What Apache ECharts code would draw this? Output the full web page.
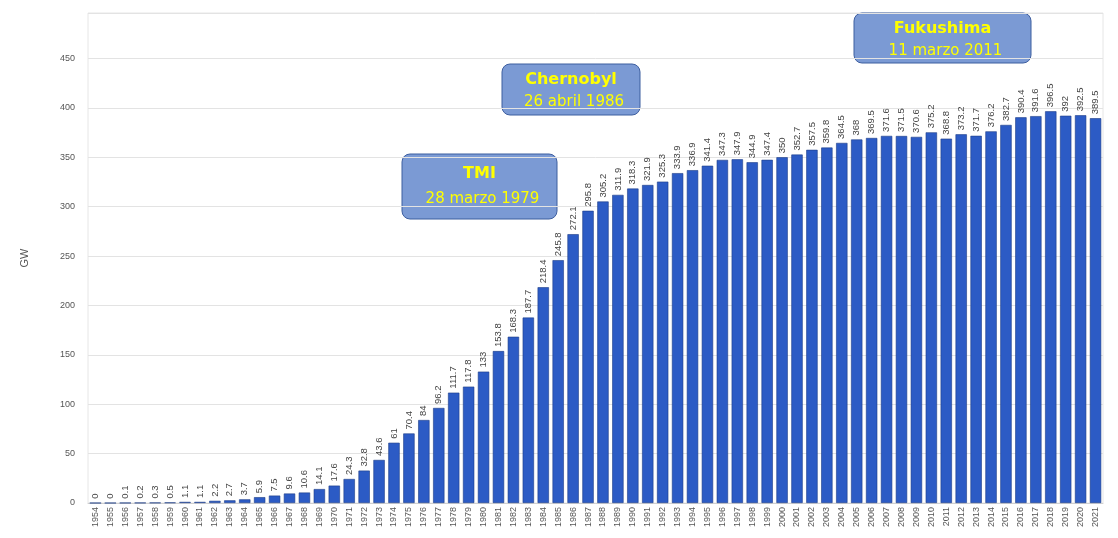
<!DOCTYPE html>
<html>
<head>
<meta charset="utf-8">
<script src="https://cdn.jsdelivr.net/npm/echarts@6/dist/echarts.min.js"></script>
<style>
  html, body { margin: 0; padding: 0; background: #fff; }
  #chart { width: 1118px; height: 538px; }
</style>
</head>
<body>
<div id="chart"></div>
<script>
// years 1954 - 2021
var years = [];
for (var y = 1954; y <= 2021; y++) years.push(String(y));

// installed nuclear capacity, GW
var capacity = [
    0, 0, 0.1, 0.2, 0.3, 0.5, 1.1, 1.1, 2.2, 2.7,
    3.7, 5.9, 7.5, 9.6, 10.6, 14.1, 17.6, 24.3, 32.8, 43.6,
    61, 70.4, 84, 96.2, 111.7, 117.8, 133, 153.8, 168.3, 187.7,
    218.4, 245.8, 272.1, 295.8, 305.2, 311.9, 318.3, 321.9, 325.3, 333.9,
    336.9, 341.4, 347.3, 347.9, 344.9, 347.4, 350, 352.7, 357.5, 359.8,
    364.5, 368, 369.5, 371.6, 371.5, 370.6, 375.2, 368.8, 373.2, 371.7,
    376.2, 382.7, 390.4, 391.6, 396.5, 392, 392.5, 389.5
];

var events = [
    { title: "TMI", date: "28 marzo 1979", box: [402, 154, 155, 65] },
    { title: "Chernobyl", date: "26 abril 1986", box: [502, 64, 138, 51] },
    { title: "Fukushima", date: "11 marzo 2011", box: [854, 13, 177, 50] }
];

var myChart = echarts.init(document.getElementById("chart"));

function eventGraphic(ev) {
    var b = ev.box;
    var cx = b[0] + b[2] / 2;
    var tall = b[3] > 55;
    return {
        type: 'group',
        z: 100,
        children: [{
            type: 'rect',
            shape: { x: b[0], y: b[1], width: b[2], height: b[3], r: 8 },
            style: { fill: '#7b9ad4', stroke: '#3d5e9f', lineWidth: 1 }
        }, {
            type: 'text',
            x: cx, y: b[1] + (tall ? 20 : 16),
            style: {
                text: ev.title, fill: '#ffff00', font: 'bold 16px "DejaVu Sans", Verdana, sans-serif',
                textAlign: 'center', textVerticalAlign: 'middle'
            }
        }, {
            type: 'text',
            x: cx + 3, y: b[1] + (tall ? 45 : 38),
            style: {
                text: ev.date, fill: '#ffff00', font: '15px "DejaVu Sans", Verdana, sans-serif',
                textAlign: 'center', textVerticalAlign: 'middle'
            }
        }]
    };
}

var option = {
    animation: false,
    grid: {
        left: 88,
        right: 15,
        top: 13,
        bottom: 35,
        show: true,
        borderColor: '#e6e6e6',
        borderWidth: 1
    },
    xAxis: {
        type: 'category',
        data: years,
        axisLine: { lineStyle: { color: '#d0d0d0' } },
        axisTick: { show: false },
        axisLabel: {
            rotate: 90,
            interval: 0,
            fontSize: 9,
            color: '#555',
            margin: 4,
            fontFamily: 'Liberation Sans, Arial, sans-serif'
        }
    },
    yAxis: {
        type: 'value',
        min: 0,
        max: 496,
        interval: 50,
        name: 'GW',
        nameLocation: 'middle',
        nameGap: 58,
        nameTextStyle: { color: '#555', fontSize: 11, fontFamily: 'Liberation Sans, Arial, sans-serif' },
        axisLine: { show: false },
        axisTick: { show: false },
        axisLabel: {
            fontSize: 9,
            color: '#555',
            margin: 13,
            fontFamily: 'Liberation Sans, Arial, sans-serif',
            showMaxLabel: false
        },
        splitLine: { lineStyle: { color: '#e3e3e3' } }
    },
    series: [{
        name: 'GW',
        type: 'bar',
        data: capacity,
        barCategoryGap: '24%',
        itemStyle: {
            color: '#2c5bc5',
            borderColor: '#1d3d86',
            borderWidth: 0.6
        },
        label: {
            show: true,
            position: 'top',
            rotate: 90,
            align: 'left',
            verticalAlign: 'middle',
            distance: 4,
            fontSize: 9.5,
            color: '#444',
            fontFamily: 'Liberation Sans, Arial, sans-serif'
        }
    }],
    graphic: events.map(eventGraphic)
};

myChart.setOption(option);
</script>
</body>
</html>
